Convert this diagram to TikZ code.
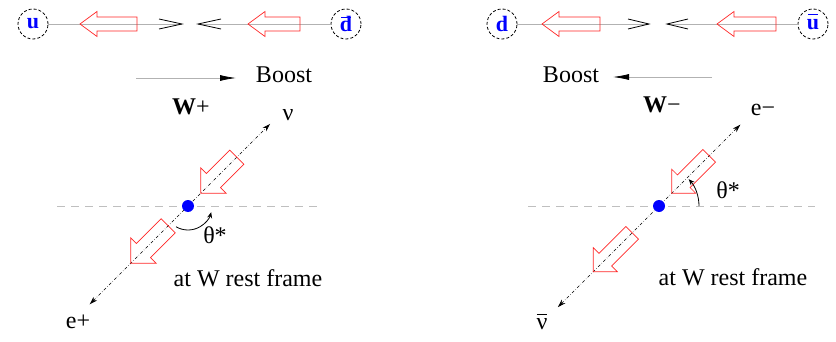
\documentclass[tikz,border=0pt]{standalone}
\usepackage{fontspec}
\setmainfont{Liberation Serif}
\usetikzlibrary{arrows.meta}
\newcommand\hollowarr[7]{% #1 origin, #2 angle, #3 tip, #4 tail, #5 head half width, #6 shaft half width, #7 head length
  \begin{scope}[shift={#1},rotate=#2]
    \draw[redarr] (#3,0) -- ++(#7,#5) -- ++(0,-#5+#6) -- (#4,#6) -- (#4,-#6) -- (#3+#7,-#6) -- ++(0,-#5+#6) -- cycle;
  \end{scope}}
\newcommand\barred[1]{\ooalign{#1\cr\hidewidth\raisebox{0.62em}{\rule{0.42em}{0.045em}}\hidewidth\cr}}
\begin{document}
\begin{tikzpicture}[x=1pt,y=1pt,
  quark/.style={circle,draw=black,densely dashed,line width=0.8pt,minimum size=30pt,inner sep=0pt,text=blue,font=\fontsize{22}{22}\selectfont\bfseries},
  guide/.style={draw=gray!60,line width=0.8pt},
  redarr/.style={draw=red!85,line width=0.7pt},
  chev/.style={draw=black,line width=0.8pt},
  lbl/.style={font=\fontsize{24}{28}\selectfont,inner sep=0pt},
  axisline/.style={draw=black,dash dot,line width=0.6pt,{Stealth[length=8pt,width=5pt]}-{Stealth[length=8pt,width=5pt]}},
  horiz/.style={draw=gray!50,dash pattern=on 8pt off 6pt,line width=0.8pt},
  vtx/.style={circle,fill=blue,minimum size=12pt,inner sep=0pt},
  anglearc/.style={draw=black,line width=0.8pt,-{Stealth[length=6pt,width=5pt]}},
  ]
\useasboundingbox (0,0) rectangle (836,341);

% ---------- top left: u  dbar ----------
\node[quark] (u1) at (33,317) {u};
\node[quark] (d1) at (346,317) {\barred{d}};
\coordinate (g1) at (182,317);
\coordinate (l1) at (198,317);
\draw[guide] (u1) -- (g1);
\draw[guide] (d1) -- (l1);
\draw[chev] (159,322) -- (g1) -- (159,312);
\draw[chev] (221,322) -- (l1) -- (221,312);
\hollowarr{(0,317)}{0}{80}{137}{12.5}{7}{17}
\hollowarr{(0,317)}{0}{248}{300}{12.5}{7}{17}

% ---------- top right: d  ubar ----------
\node[quark] (d2) at (502,317) {d};
\node[quark] (u2) at (813,317) {\barred{u}};
\coordinate (g2) at (649,317);
\coordinate (l2) at (667,317);
\draw[guide] (d2) -- (g2);
\draw[guide] (u2) -- (l2);
\draw[chev] (628,322) -- (g2) -- (628,312);
\draw[chev] (688,322) -- (l2) -- (688,312);
\hollowarr{(0,317)}{0}{542}{600}{12.5}{7}{17}
\hollowarr{(0,317)}{0}{717}{776}{12.5}{7}{17}

% ---------- boost rows ----------
\coordinate (b1s) at (136,263);
\coordinate (b1e) at (236,263);
\draw[guide,-{Latex[black,length=16pt,width=6pt]}] (b1s) -- (b1e);
\node[lbl] (boost1) at (284,266) {Boost};
\node[lbl] (w1) at (191,234) {\textbf{W}+};

\coordinate (b2s) at (712,264);
\coordinate (b2e) at (613,264);
\draw[guide,-{Latex[black,length=16pt,width=6pt]}] (b2s) -- (b2e);
\node[lbl] (boost2) at (571,266) {Boost};
\node[lbl] (w2) at (662,236) {\textbf{W}−};

% ---------- lower left: W+ rest frame ----------
\coordinate (h1a) at (57,135);
\coordinate (h1b) at (318,135);
\draw[horiz] (h1a) -- (h1b);
\coordinate (c1) at (188,135);
\coordinate (nu1) at ([shift={(45:116)}]c1);
\coordinate (ep1) at ([shift={(225:139)}]c1);
\draw[axisline] (ep1) -- (nu1);
\hollowarr{(c1)}{45}{18}{69}{18}{10}{18}
\hollowarr{(c1)}{45}{-81}{-28}{18}{10}{18}
\node[vtx] (v1) at (c1) {};
\draw[anglearc] ([shift={(-120:24)}]c1) arc[start angle=-120,end angle=-15,radius=24];
\node[lbl] (nul1) at (288,226) {ν};
\node[lbl] (epl1) at (78,19) {e+};
\node[lbl] (th1) at (215,106) {θ*};
\node[lbl] (rf1) at (248,63) {at W rest frame};

% ---------- lower right: W- rest frame ----------
\coordinate (h2a) at (528,135);
\coordinate (h2b) at (815,135);
\draw[horiz] (h2a) -- (h2b);
\coordinate (c2) at (659,135);
\coordinate (em2) at ([shift={(45:115)}]c2);
\coordinate (nb2) at ([shift={(225:143)}]c2);
\draw[axisline] (nb2) -- (em2);
\hollowarr{(c2)}{45}{18}{71}{17}{9}{17}
\hollowarr{(c2)}{45}{-93}{-38}{17}{9}{17}
\node[vtx] (v2) at (c2) {};
\draw[anglearc] ([shift={(0:40)}]c2) arc[start angle=0,end angle=42,radius=40];
\node[lbl] (eml2) at (763,231) {e−};
\node[lbl] (nbl2) at (542,17) {\barred{ν}};
\node[lbl] (th2) at (728,151) {θ*};
\node[lbl] (rf2) at (733,64) {at W rest frame};
\end{tikzpicture}
\end{document}
